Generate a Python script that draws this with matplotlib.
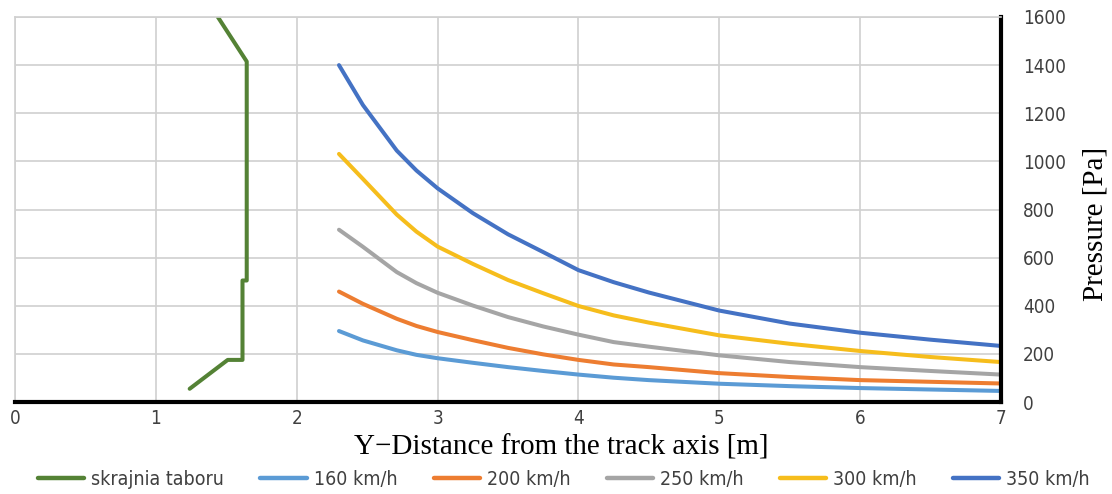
import numpy as np
import matplotlib
matplotlib.use('Agg')
import matplotlib.pyplot as plt

# obrys skrajni taboru
gauge_x = [1.44, 1.645, 1.645, 1.615, 1.615, 1.51, 1.24]
gauge_y = [1600, 1415, 505, 505, 175, 175, 55]

# odleglosc od osi toru [m]
dist = [2.3, 2.47, 2.71, 2.85, 3.0, 3.25, 3.5, 3.75, 4.0, 4.25, 4.5, 5.0, 5.5, 6.0, 6.5, 7.0]
p160 = [295, 256, 215, 196, 182, 163, 145, 129, 114, 101, 91, 76, 66, 58, 52, 46]
p200 = [459, 408, 346, 316, 291, 257, 225, 198, 175, 156, 145, 120, 104, 91, 84, 77]
p250 = [716, 645, 540, 494, 454, 401, 353, 314, 280, 249, 230, 194, 166, 145, 129, 114]
p300 = [1031, 927, 779, 708, 646, 574, 507, 452, 399, 360, 330, 277, 242, 212, 187, 166]
p350 = [1400, 1234, 1045, 962, 888, 785, 697, 623, 548, 498, 455, 380, 326, 288, 259, 233]

labels = ['skrajnia taboru', '160 km/h', '200 km/h', '250 km/h', '300 km/h', '350 km/h']
colors = ['#548235', '#5B9BD5', '#ED7D31', '#A5A5A5', '#F6BD1C', '#4472C4']

plt.rcParams['font.family'] = ['DejaVu Sans']

fig = plt.figure(figsize=(11.12, 4.94), dpi=100)
ax = fig.add_axes([0.0135, 0.1862, 0.8867, 0.7794])

lw = 2.9
ax.plot(gauge_x, gauge_y, color=colors[0], lw=lw, label=labels[0], solid_capstyle='round')
for ser, lab, col in zip([p160, p200, p250, p300, p350], labels[1:], colors[1:]):
    ax.plot(dist, ser, color=col, lw=lw, label=lab, solid_capstyle='round', solid_joinstyle='round')

ax.set_xlim(0, 7)
ax.set_ylim(0, 1600)
ax.set_xticks(range(0, 8))
ax.set_yticks(range(0, 1601, 200))
ax.yaxis.tick_right()
ax.yaxis.set_label_position('right')
ax.grid(True, color='#D0D0D0', lw=1.2)
ax.set_axisbelow(True)
ax.tick_params(length=0, labelsize=13.5, colors='#404040')
ax.tick_params(axis='x', pad=5)
ax.tick_params(axis='y', pad=16)
for lab in ax.get_xticklabels() + ax.get_yticklabels():
    lab.set_fontstretch('condensed')

for s in ['left', 'top']:
    ax.spines[s].set_color('#D0D0D0')
    ax.spines[s].set_linewidth(1.2)
for s in ['right', 'bottom']:
    ax.spines[s].set_color('black')
    ax.spines[s].set_linewidth(3)

ax.set_xlabel('Y\u2212Distance from the track axis [m]', family='Liberation Serif', fontsize=21)
ax.set_ylabel('Pressure [Pa]', family='Liberation Serif', fontsize=21)
ax.xaxis.set_label_coords(0.554, -0.085, transform=ax.transAxes)
ax.yaxis.set_label_coords(1.083, 0.462, transform=ax.transAxes)

leg = fig.legend(loc='lower center', bbox_to_anchor=(0.507, -0.025), ncol=6, frameon=False,
                 fontsize=14, handlelength=2.37, columnspacing=1.87, handletextpad=0.36)
for t in leg.get_texts():
    t.set_fontstretch('condensed')
    t.set_color('#404040')
for h in leg.get_lines():
    h.set_linewidth(3.2)

fig.savefig('out.png', dpi=100)
